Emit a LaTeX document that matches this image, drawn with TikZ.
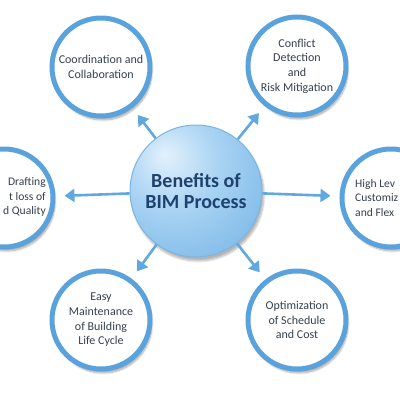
\documentclass[tikz,border=0pt]{standalone}
\usepackage{fontspec}
\setmainfont{Carlito}
\usepackage{xcolor}
\usetikzlibrary{arrows.meta,shadows.blur}

\definecolor{ringblue}{HTML}{5AA2DC}
\definecolor{arrowblue}{HTML}{62A8E0}
\definecolor{hubhi}{HTML}{E2F1FC}
\definecolor{hubmid}{HTML}{A9D3F3}
\definecolor{hubdark}{HTML}{5EA6E0}
\definecolor{hubtext}{HTML}{1E416E}
\definecolor{bodytext}{HTML}{36414D}

\pgfdeclareradialshading{hubshade}{\pgfpoint{-12bp}{14bp}}{%
  color(0bp)=(hubhi); color(18bp)=(hubmid); color(55bp)=(hubdark); color(80bp)=(hubdark)}

\tikzset{
  benefit/.style={circle, minimum size=98pt, inner sep=0pt, fill=white,
    draw=ringblue, line width=5pt, align=center, text=bodytext,
    font=\fontsize{12}{14.6}\selectfont,
    blur shadow={shadow xshift=2pt, shadow yshift=-4pt, shadow blur steps=8, shadow opacity=35}},
  hub/.style={circle, minimum size=132pt, inner sep=0pt, shading=hubshade,
    draw=ringblue!80, line width=1pt, align=center, text=hubtext,
    font=\fontsize{20}{20.5}\selectfont\bfseries,
    blur shadow={shadow xshift=2pt, shadow yshift=-4pt, shadow blur steps=8, shadow opacity=30}},
  cuttext/.style={text=bodytext, font=\fontsize{11.6}{14.6}\selectfont, inner sep=0pt},
  spoke/.style={arrowblue, line width=2.6pt, -{Triangle[length=10pt,width=13pt]}, shorten >=9pt}
}

\begin{document}
\begin{tikzpicture}[x=1pt,y=-1pt]
  \useasboundingbox (0,0) rectangle (400,400);
  \clip (0,0) rectangle (400,400);

  % Centre
  \node[hub] (bim) at (196,191) {Benefits of\\BIM Process};

  % Benefits round the centre
  \node[benefit] (coord) at (101,67) {Coordination and\\Collaboration};
  \node[benefit] (conflict) at (297,66) {Conflict\\Detection\\and\\Risk Mitigation};
  \node[benefit] (draft) at (4,198) {};
  \node[benefit] (custom) at (391,198) {};
  \node[benefit] (maint) at (101,320) {Easy\\Maintenance\\of Building\\Life Cycle};
  \node[benefit] (optim) at (297,320) {Optimization\\of Schedule\\and Cost};

  % Texts at the edge
  \node[cuttext, align=right, anchor=east] (drafttext) at (46,197) {Drafting\\t loss of\\d Quality};
  \node[cuttext, align=left, anchor=west] (customtext) at (355,198) {High Lev\\Customiz\\and Flex};

  % Arrows
  \foreach \target in {coord,conflict,draft,custom,maint,optim}
    \draw[spoke] (bim) -- (\target);
\end{tikzpicture}
\end{document}
